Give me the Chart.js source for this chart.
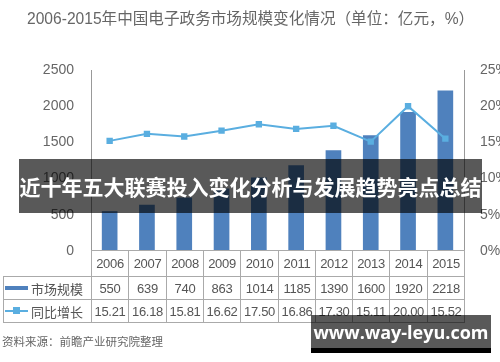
<!DOCTYPE html>
<html><head><meta charset="utf-8">
<script src="https://cdn.jsdelivr.net/npm/chart.js@4/dist/chart.umd.min.js"></script>
<style>
html,body{margin:0;padding:0;background:#fff;width:500px;height:362px;overflow:hidden;font-family:"Liberation Sans","Noto Sans CJK SC",sans-serif;}
#wrap{position:relative;width:500px;height:362px;}
canvas{position:absolute;left:0;top:0;}
.abs{position:absolute;}
#title{left:27px;top:6px;font-size:15.6px;color:#666;font-family:"Liberation Sans","Noto Sans CJK SC",sans-serif;white-space:nowrap;}
.cell{position:absolute;box-sizing:border-box;border:1px solid #aaa;color:#555;font-size:13px;display:flex;align-items:center;justify-content:center;white-space:nowrap;letter-spacing:-0.3px;}
#banner{left:19px;top:159px;width:463px;height:54px;background:rgba(0,0,0,0.65);color:#fff;font-weight:bold;font-size:21px;display:flex;align-items:center;justify-content:center;white-space:nowrap;font-family:"Noto Sans CJK SC",sans-serif;z-index:5;}
#source{left:2px;top:333px;font-size:11.5px;color:#666;font-family:"Noto Sans CJK SC",sans-serif;white-space:nowrap;}
#site{left:311px;top:315px;width:180px;height:33px;background:rgba(0,0,0,0.65);color:#fff;font-weight:bold;font-size:18px;display:flex;align-items:center;justify-content:center;font-family:"Open Sans","DejaVu Sans",sans-serif;z-index:5;border-bottom:5px solid #000;white-space:nowrap;}
</style></head>
<body><div id="wrap">
<canvas id="c" width="500" height="362"></canvas>
<div id="title" class="abs">2006-2015年中国电子政务市场规模变化情况（单位：亿元，%）</div>
<div id="table"></div>
<div id="source" class="abs">资料来源：前瞻产业研究院整理</div>
<div id="banner" class="abs">近十年五大联赛投入变化分析与发展趋势亮点总结</div>
<div id="site" class="abs">www.way-leyu.com</div>
</div>
<script>
const years = ['2006','2007','2008','2009','2010','2011','2012','2013','2014','2015'];
const marketSize = [550,639,740,863,1014,1185,1390,1600,1920,2218];
const growthRate = [15.21,16.18,15.81,16.62,17.50,16.86,17.30,15.11,20.00,15.52];
const growthLabels = ['15.21','16.18','15.81','16.62','17.50','16.86','17.30','15.11','20.00','15.52'];
const seriesNames = ['市场规模','同比增长'];
const leftTicks = [0,500,1000,1500,2000,2500];
const rightTicks = [0,5,10,15,20,25];

const BAR = '#4f81bd', LINE = '#5aaee0';
const areaL = 91, areaR = 464, areaT = 70, areaB = 251;

new Chart(document.getElementById('c'), {
  data: {
    labels: years,
    datasets: [
      {type:'line', label:seriesNames[1], data:growthRate, yAxisID:'y1', borderColor:LINE, backgroundColor:LINE, borderWidth:2, pointStyle:'rect', pointRadius:4.5, pointBorderWidth:0, tension:0, order:0},
      {type:'bar', label:seriesNames[0], data:marketSize, yAxisID:'y', backgroundColor:BAR, barPercentage:0.42, categoryPercentage:1, order:1}
    ]
  },
  options: {
    responsive:false, animation:false, devicePixelRatio:1,
    layout:{padding:{top:areaT, bottom:362-areaB, left:0, right:0}},
    plugins:{legend:{display:false}, tooltip:{enabled:false}},
    scales:{
      x:{display:false, offset:true},
      y:{position:'left', min:0, max:2500, afterBuildTicks:s=>{s.ticks=leftTicks.map(v=>({value:v}));},
         afterFit:s=>{s.width=areaL;}, grid:{display:false}, border:{display:true,color:'#999',width:1},
         ticks:{color:'#666', font:{size:14, family:'Liberation Sans'}, padding:9, callback:v=>String(v)}},
      y1:{position:'right', min:0, max:25, afterBuildTicks:s=>{s.ticks=rightTicks.map(v=>({value:v}));},
         afterFit:s=>{s.width=500-areaR;}, grid:{display:false}, border:{display:true,color:'#999',width:1},
         ticks:{color:'#666', font:{size:14, family:'Liberation Sans'}, padding:8, callback:v=>v+'%'}}
    }
  }
});

// table built from data arrays
const tbl = document.getElementById('table');
const cw = (areaR-areaL)/years.length;
const rows = [{t:250,h:27},{t:276,h:24},{t:299,h:24}];
function cell(x,y,w,h,html,extra){
  const d=document.createElement('div'); d.className='cell';
  d.style.left=x+'px'; d.style.top=y+'px'; d.style.width=w+'px'; d.style.height=h+'px';
  d.innerHTML=html; if(extra) Object.assign(d.style,extra); tbl.appendChild(d);
}
function colX(i){return Math.round(areaL+i*cw);}
years.forEach((y,i)=>cell(colX(i), rows[0].t, colX(i+1)-colX(i)+1, rows[0].h, y));
marketSize.forEach((v,i)=>cell(colX(i), rows[1].t, colX(i+1)-colX(i)+1, rows[1].h, String(v)));
growthLabels.forEach((v,i)=>cell(colX(i), rows[2].t, colX(i+1)-colX(i)+1, rows[2].h, v));
const lgFont = {justifyContent:'flex-start', fontFamily:'"Noto Sans CJK SC",sans-serif', fontSize:'13px', letterSpacing:'0'};
cell(3, rows[1].t, areaL-3+1, rows[1].h, '<span style="display:inline-block;width:23px;height:4px;background:'+BAR+';margin:0 3px 0 1px"></span>'+seriesNames[0], lgFont);
cell(3, rows[2].t, areaL-3+1, rows[2].h, '<span style="position:relative;display:inline-block;width:23px;height:2px;background:'+LINE+';margin:0 3px 0 1px"><span style="position:absolute;left:8px;top:-3px;width:7px;height:7px;background:'+LINE+'"></span></span>'+seriesNames[1], lgFont);
</script>
</body></html>
